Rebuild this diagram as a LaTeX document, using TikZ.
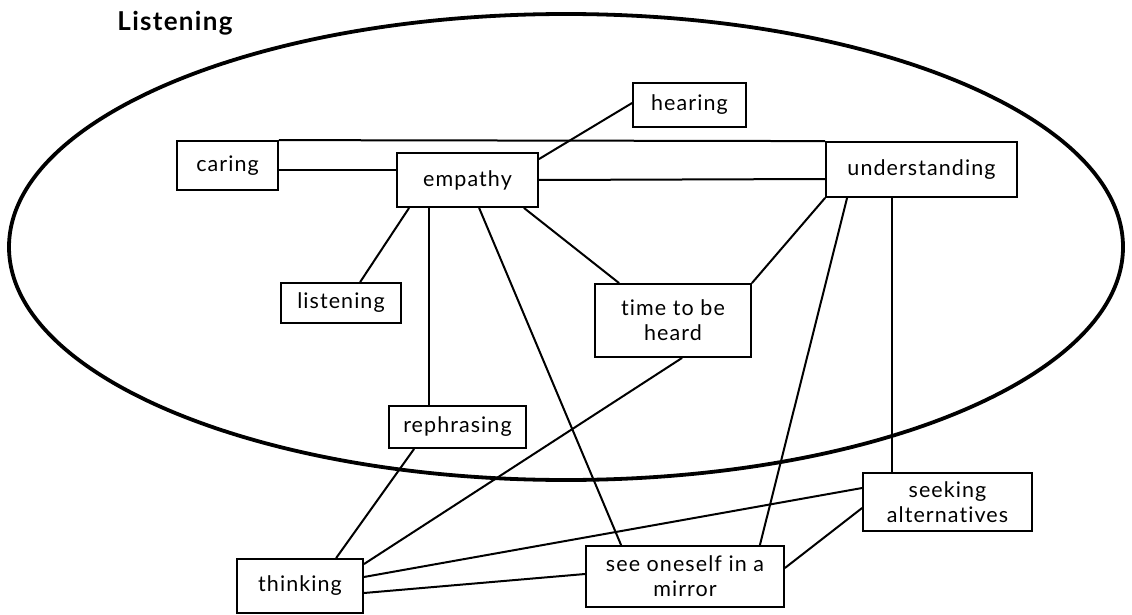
\documentclass[tikz,border=0pt]{standalone}
\usepackage{fontspec}
\setmainfont{Lato}[LetterSpace=5.0,Ligatures=CommonOff]
\begin{document}
\begin{tikzpicture}[x=1pt,y=-1pt,
  box/.style={draw=black,line width=1.8pt,inner sep=0pt,align=center,
    font=\fontsize{21.5}{25}\selectfont},
  link/.style={draw=black,line width=2pt}]
\useasboundingbox (0,0) rectangle (1132,615);
\fill[white] (0,0) rectangle (1132,615);
\draw[line width=3.8pt] (566,247) ellipse [x radius=557, y radius=233];
\node[font=\fontsize{26}{28}\bfseries\selectfont] (title) at (175,23) {Listening};
\node[box,minimum width=101pt,minimum height=49pt] (caring) at (227.5,165.5) {caring};
\node[box,minimum width=141pt,minimum height=54pt] (empathy) at (467.5,180) {empathy};
\node[box,minimum width=113pt,minimum height=44pt] (hearing) at (689.5,105) {hearing};
\node[box,minimum width=191pt,minimum height=55pt] (understanding) at (921.5,169.5) {understanding};
\node[box,minimum width=120pt,minimum height=40pt] (listening) at (341,303) {listening};
\node[box,minimum width=156pt,minimum height=73pt] (time) at (673,320.5) {time to be\\heard};
\node[box,minimum width=137pt,minimum height=42pt] (rephrasing) at (457.5,427) {rephrasing};
\node[box,minimum width=126pt,minimum height=54pt] (thinking) at (300,586) {thinking};
\node[box,minimum width=198pt,minimum height=61pt] (see) at (685,576.5) {see oneself in a\\mirror};
\node[box,minimum width=169pt,minimum height=58pt] (seeking) at (947.5,502) {seeking\\alternatives};
\path[link] (caring.north east) -- (understanding.north west);
\path[link] ([yshift=-4.5pt]caring.east) -- ([yshift=10pt]empathy.west);
\path[link] (empathy.east) -- ([yshift=-9.5pt]understanding.west);
\path[link] ([yshift=-7pt]empathy.north east) -- ([yshift=2pt]hearing.west);
\path[link] ([xshift=13pt]empathy.south west) -- ([xshift=80pt]listening.north west);
\path[link] ([xshift=33pt]empathy.south west) -- ([xshift=41pt]rephrasing.north west);
\path[link] ([xshift=83pt]empathy.south west) -- ([xshift=36pt]see.north west);
\path[link] ([xshift=-15pt]empathy.south east) -- ([xshift=25pt]time.north west);
\path[link] (understanding.south west) -- (time.north east);
\path[link] ([xshift=22pt]understanding.south west) -- ([xshift=-25pt]see.north east);
\path[link] ([xshift=67pt]understanding.south west) -- ([xshift=30pt]seeking.north west);
\path[link] ([xshift=88pt]time.south west) -- ([yshift=-6pt]thinking.north east);
\path[link] ([xshift=26pt]rephrasing.south west) -- ([xshift=100pt]thinking.north west);
\path[link] ([yshift=9pt]thinking.east) -- ([yshift=14pt]seeking.west);
\path[link] ([yshift=-7pt]thinking.east) -- ([yshift=2.5pt]see.west);
\path[link] ([yshift=8.5pt]see.east) -- ([yshift=-6pt]seeking.west);
\end{tikzpicture}
\end{document}
